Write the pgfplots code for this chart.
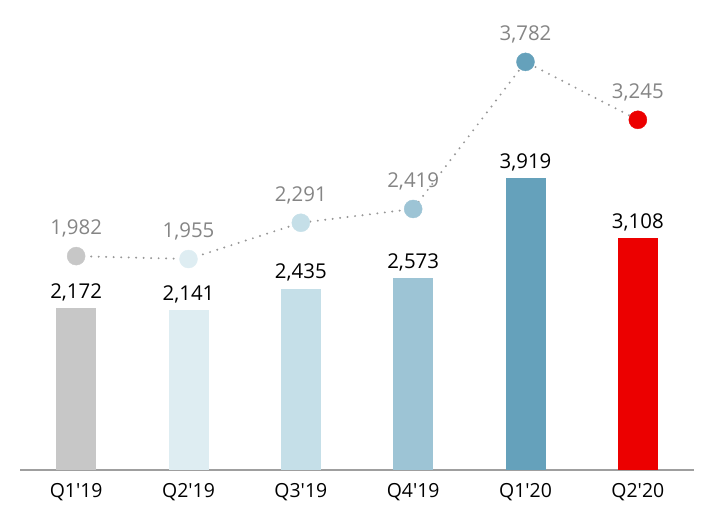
\documentclass[border=0pt]{standalone}
\usepackage{pgfplots}
\pgfplotsset{compat=1.18}
\usepackage{fontspec}
\setmainfont{Open Sans}

\definecolor{qa}{HTML}{C7C7C7}
\definecolor{qb}{HTML}{DEEDF2}
\definecolor{qc}{HTML}{C5DFE8}
\definecolor{qd}{HTML}{9DC4D5}
\definecolor{qe}{HTML}{65A1BB}
\definecolor{qf}{HTML}{EC0000}
\definecolor{lbl}{HTML}{858585}

\begin{document}
\begin{tikzpicture}
\pgfplotsset{
  common/.style={
    width=674bp, height=450bp, scale only axis,
    xmin=-0.5, xmax=5.5, ymin=0,
    /pgf/number format/assume math mode=true,
    /pgf/number format/1000 sep={,},
  },
}
% bars: quarterly values
\begin{axis}[
  common, name=bars,
  ymax=6040,
  axis x line*=bottom, axis y line=none,
  x axis line style={draw=gray!75, line width=1.5bp, -},
  xtick={0,1,2,3,4,5},
  xticklabels={Q1\textquotesingle 19,Q2\textquotesingle 19,Q3\textquotesingle 19,Q4\textquotesingle 19,Q1\textquotesingle 20,Q2\textquotesingle 20},
  major tick length=0pt,
  x tick label style={font=\fontsize{19.5}{22}\selectfont, yshift=-10bp},
  ytick=\empty,
  ybar, bar width=40bp, bar shift=0pt,
  nodes near coords,
  every node near coord/.append style={black, font=\fontsize{20.5}{24}\selectfont, inner sep=2bp, yshift=5bp},
]
\addplot[fill=qa, draw=none] coordinates {(0,2172)};
\addplot[fill=qb, draw=none] coordinates {(1,2141)};
\addplot[fill=qc, draw=none] coordinates {(2,2435)};
\addplot[fill=qd, draw=none] coordinates {(3,2573)};
\addplot[fill=qe, draw=none] coordinates {(4,3919)};
\addplot[fill=qf, draw=none] coordinates {(5,3108)};
\end{axis}
% dotted line: second series
\begin{axis}[
  common,
  ymax=4170,
  hide axis,
]
\addplot[lbl!85, line width=2.2bp, line cap=round, dash pattern=on 0pt off 7.5bp,
  nodes near coords,
  every node near coord/.append style={lbl, font=\fontsize{20.5}{24}\selectfont, anchor=south, inner sep=2bp, yshift=16bp}]
  coordinates {(0,1982) (1,1955) (2,2291) (3,2419) (4,3782) (5,3245)};
\addplot[only marks, mark=*, mark size=9bp, qa] coordinates {(0,1982)};
\addplot[only marks, mark=*, mark size=9bp, qb] coordinates {(1,1955)};
\addplot[only marks, mark=*, mark size=9bp, qc] coordinates {(2,2291)};
\addplot[only marks, mark=*, mark size=9bp, qd] coordinates {(3,2419)};
\addplot[only marks, mark=*, mark size=9bp, qe] coordinates {(4,3782)};
\addplot[only marks, mark=*, mark size=9bp, qf] coordinates {(5,3245)};
\end{axis}
\path[use as bounding box] ([xshift=-20bp,yshift=-60bp]bars.south west) rectangle ([xshift=20bp,yshift=20bp]bars.north east);
\end{tikzpicture}
\end{document}
